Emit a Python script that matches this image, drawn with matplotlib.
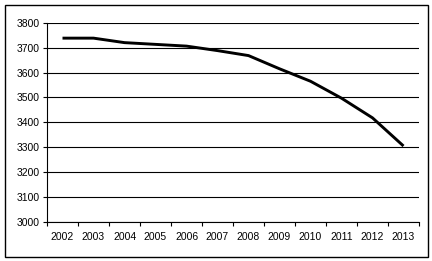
import matplotlib
matplotlib.use("Agg")
import matplotlib.pyplot as plt
from matplotlib.patches import Rectangle

# =========================
# DATA
# =========================

years = ["2002", "2003", "2004", "2005", "2006", "2007",
         "2008", "2009", "2010", "2011", "2012", "2013"]
values = [3738, 3738, 3720, 3713, 3706, 3688,
          3668, 3615, 3565, 3497, 3418, 3305]
y_ticks = [3000, 3100, 3200, 3300, 3400, 3500, 3600, 3700, 3800]

# =========================
# PLOT
# =========================

plt.rcParams["font.family"] = ["Liberation Sans", "DejaVu Sans"]

fig = plt.figure(figsize=(4.32, 2.61), dpi=100)

# outer chart border
fig.patches.append(
    Rectangle((5 / 432, 4 / 261), 423 / 432, 252 / 261,
              transform=fig.transFigure, fill=False,
              edgecolor="black", linewidth=1.0)
)

ax = fig.add_axes([47 / 432, 1 - 222 / 261, 372 / 432, 199.3 / 261])

x = [i + 0.5 for i in range(len(years))]
ax.plot(x, values, color="black", linewidth=2.1, solid_capstyle="butt")

ax.set_xlim(0, len(years))
ax.set_ylim(3000, 3800)

ax.set_yticks(y_ticks)
ax.set_yticklabels([str(t) for t in y_ticks], fontsize=7.5)
ax.yaxis.grid(True, color="black", linewidth=0.8)
ax.set_axisbelow(True)

ax.set_xticks(range(len(years) + 1))
ax.set_xticklabels([])
ax.set_xticks(x, minor=True)
ax.set_xticklabels(years, minor=True, fontsize=7.5)
ax.tick_params(axis="x", which="minor", length=0, pad=7)
ax.tick_params(axis="x", which="major", length=3, width=0.8, direction="out")
ax.tick_params(axis="y", length=3, width=0.8, direction="out", pad=2)

for side in ["top", "right"]:
    ax.spines[side].set_visible(False)
for side in ["left", "bottom"]:
    ax.spines[side].set_linewidth(0.8)

fig.savefig("out.png", dpi=100)
